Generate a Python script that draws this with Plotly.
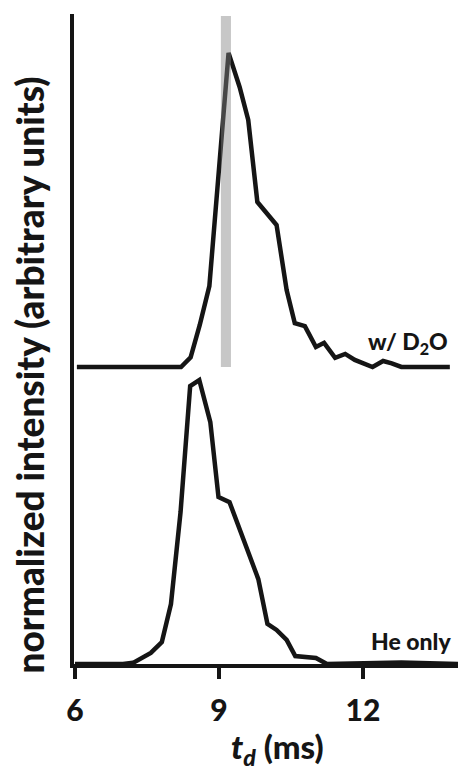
import plotly.graph_objects as go

# drift time (ms) and normalized intensity, upper trace: with D2O
t_d2o = [6.04, 8.21, 8.41, 8.60, 8.80, 9.20, 9.43, 9.61, 9.80, 10.20, 10.41, 10.58,
         10.79, 11.02, 11.19, 11.42, 11.63, 11.83, 12.20, 12.42, 12.60, 12.80, 13.81]
i_d2o = [0.0, 0.0, 0.034, 0.148, 0.285, 1.106, 0.986, 0.870, 0.581, 0.500, 0.271, 0.154,
         0.144, 0.070, 0.085, 0.032, 0.046, 0.025, 0.0, 0.021, 0.013, 0.0, 0.0]
offset_d2o = 1.046

# lower trace: He only
t_he = [6.00, 7.00, 7.21, 7.58, 7.81, 8.00, 8.20, 8.40, 8.59, 8.82, 8.99, 9.22, 9.82,
        10.01, 10.20, 10.41, 10.59, 11.02, 11.25, 12.40, 12.80, 13.98]
i_he = [0.0, 0.0, 0.004, 0.039, 0.077, 0.211, 0.535, 0.979, 1.0, 0.852, 0.588, 0.570, 0.299,
        0.141, 0.120, 0.085, 0.028, 0.021, 0.0, 0.004, 0.005, 0.0]

band_start, band_end = 9.04, 9.25
band_top = 2.282

x_ticks = [6, 9, 12]
x_range = [5.98, 13.98]
y_range = [0, 2.289]

LINE = "#151515"
FONT = "Lato"
W = 900

fig = go.Figure()
fig.add_trace(go.Scatter(x=t_he, y=i_he, mode="lines",
                         line=dict(color=LINE, width=4.5), showlegend=False))
fig.add_trace(go.Scatter(x=t_d2o, y=[v + offset_d2o for v in i_d2o], mode="lines",
                         line=dict(color=LINE, width=4.5), showlegend=False))

fig.add_shape(type="rect", xref="x", yref="y", x0=band_start, x1=band_end,
              y0=offset_d2o, y1=band_top, line=dict(width=0),
              fillcolor="rgba(130,130,130,0.45)", layer="above")

fig.add_annotation(text="w/ D<sub>2</sub>O", xref="paper", yref="y",
                   x=0.978, y=offset_d2o + 0.085, xanchor="right", yanchor="middle",
                   showarrow=False, font=dict(family=FONT, size=23, color=LINE, weight=W))
fig.add_annotation(text="He only", xref="paper", yref="y",
                   x=0.988, y=0.08, xanchor="right", yanchor="middle",
                   showarrow=False, font=dict(family=FONT, size=23, color=LINE, weight=W))

fig.add_annotation(text="<i>t</i><sub><i>d</i></sub> (ms)", xref="paper", yref="paper",
                   x=0.53, y=-0.13, xanchor="center", yanchor="middle",
                   showarrow=False, font=dict(family=FONT, size=33, color=LINE, weight=W))
fig.add_annotation(text="normalized intensity (arbitrary units)", xref="paper", yref="paper",
                   x=-0.115, y=0.445, xanchor="center", yanchor="middle", textangle=-90,
                   showarrow=False, font=dict(family=FONT, size=37, color=LINE, weight=W))

fig.update_xaxes(range=x_range, tickvals=x_ticks, ticktext=[str(v) for v in x_ticks],
                 showline=True, linecolor=LINE, linewidth=3.5, ticks="outside",
                 ticklen=11, tickwidth=3.5, tickcolor=LINE, showgrid=False, zeroline=False,
                 ticklabelstandoff=6,
                 tickfont=dict(family=FONT, size=30, color=LINE, weight=W))
fig.update_yaxes(range=y_range, showline=True, linecolor=LINE, linewidth=3.5,
                 showticklabels=False, ticks="", showgrid=False, zeroline=False)

fig.update_layout(width=458, height=766, margin=dict(l=74, r=0, t=14, b=102),
                  plot_bgcolor="white", paper_bgcolor="white")

fig.write_html("out.html")
